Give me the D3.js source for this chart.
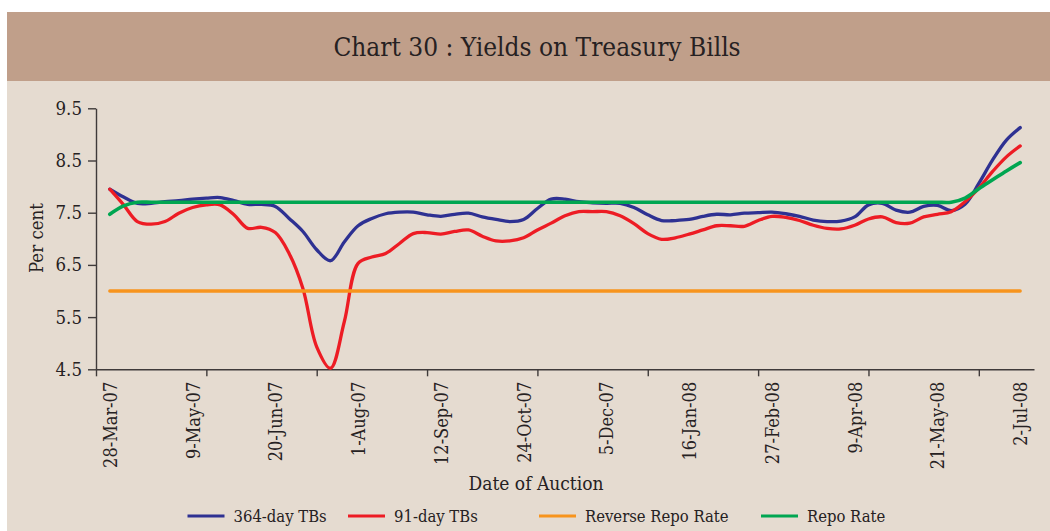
<!DOCTYPE html>
<html>
<head>
<meta charset="utf-8">
<script src="https://cdn.jsdelivr.net/npm/d3@7"></script>
<style>
  html, body { margin: 0; padding: 0; background: #ffffff; }
  svg text { font-family: "DejaVu Serif Condensed", "DejaVu Serif", serif; font-stretch: condensed; fill: #262122; }
</style>
</head>
<body>
<svg id="chart" width="1050" height="531"></svg>
<script>
// ---------- DATA ----------
const categories = [
  "28-Mar-07","4-Apr-07","11-Apr-07","18-Apr-07","25-Apr-07","2-May-07","9-May-07","16-May-07","23-May-07","30-May-07",
  "6-Jun-07","13-Jun-07","20-Jun-07","27-Jun-07","4-Jul-07","11-Jul-07","18-Jul-07","25-Jul-07","1-Aug-07","8-Aug-07",
  "15-Aug-07","22-Aug-07","29-Aug-07","5-Sep-07","12-Sep-07","19-Sep-07","26-Sep-07","3-Oct-07","10-Oct-07","17-Oct-07",
  "24-Oct-07","31-Oct-07","7-Nov-07","14-Nov-07","21-Nov-07","28-Nov-07","5-Dec-07","12-Dec-07","19-Dec-07","26-Dec-07",
  "2-Jan-08","9-Jan-08","16-Jan-08","23-Jan-08","30-Jan-08","6-Feb-08","13-Feb-08","20-Feb-08","27-Feb-08","5-Mar-08",
  "12-Mar-08","19-Mar-08","26-Mar-08","2-Apr-08","9-Apr-08","16-Apr-08","23-Apr-08","30-Apr-08","7-May-08","14-May-08",
  "21-May-08","28-May-08","4-Jun-08","11-Jun-08","18-Jun-08","25-Jun-08","2-Jul-08"
];

const tb364 = [
  7.95,7.80,7.68,7.68,7.71,7.73,7.76,7.78,7.79,7.73,
  7.66,7.66,7.62,7.39,7.14,6.79,6.58,6.94,7.25,7.39,
  7.48,7.51,7.51,7.46,7.43,7.47,7.49,7.42,7.37,7.33,
  7.37,7.58,7.76,7.76,7.71,7.69,7.68,7.68,7.60,7.46,
  7.35,7.35,7.37,7.43,7.47,7.46,7.49,7.50,7.51,7.48,
  7.43,7.36,7.33,7.34,7.42,7.65,7.68,7.55,7.51,7.62,
  7.64,7.54,7.66,8.06,8.51,8.89,9.13
];

const tb91 = [
  7.95,7.65,7.33,7.28,7.33,7.49,7.60,7.65,7.65,7.46,
  7.20,7.22,7.12,6.72,6.05,4.93,4.52,5.41,6.53,6.65,
  6.72,6.91,7.10,7.12,7.09,7.14,7.17,7.05,6.96,6.96,
  7.02,7.17,7.30,7.44,7.52,7.52,7.52,7.44,7.29,7.10,
  6.99,7.02,7.09,7.17,7.25,7.25,7.24,7.35,7.43,7.41,
  7.35,7.26,7.20,7.19,7.26,7.38,7.42,7.31,7.30,7.42,
  7.47,7.52,7.71,7.97,8.29,8.57,8.78
];

const reverseRepo = [
  6.0,6.0,6.0,6.0,6.0,6.0,6.0,6.0,6.0,6.0,
  6.0,6.0,6.0,6.0,6.0,6.0,6.0,6.0,6.0,6.0,
  6.0,6.0,6.0,6.0,6.0,6.0,6.0,6.0,6.0,6.0,
  6.0,6.0,6.0,6.0,6.0,6.0,6.0,6.0,6.0,6.0,
  6.0,6.0,6.0,6.0,6.0,6.0,6.0,6.0,6.0,6.0,
  6.0,6.0,6.0,6.0,6.0,6.0,6.0,6.0,6.0,6.0,
  6.0,6.0,6.0,6.0,6.0,6.0,6.0
];

const repo = [
  7.47,7.63,7.70,7.70,7.70,7.70,7.70,7.70,7.70,7.70,
  7.70,7.70,7.70,7.70,7.70,7.70,7.70,7.70,7.70,7.70,
  7.70,7.70,7.70,7.70,7.70,7.70,7.70,7.70,7.70,7.70,
  7.70,7.70,7.70,7.70,7.70,7.70,7.70,7.70,7.70,7.70,
  7.70,7.70,7.70,7.70,7.70,7.70,7.70,7.70,7.70,7.70,
  7.70,7.70,7.70,7.70,7.70,7.70,7.70,7.70,7.70,7.70,
  7.70,7.70,7.78,7.96,8.13,8.30,8.46
];

const seriesNames = ["364-day TBs", "91-day TBs", "Reverse Repo Rate", "Repo Rate"];
const seriesColors = ["#2e3192", "#ed1c24", "#f7941d", "#00a651"];

const xTickLabels = ["28-Mar-07","9-May-07","20-Jun-07","1-Aug-07","12-Sep-07","24-Oct-07",
                     "5-Dec-07","16-Jan-08","27-Feb-08","9-Apr-08","21-May-08","2-Jul-08"];
const yTicks = [4.5, 5.5, 6.5, 7.5, 8.5, 9.5];
const titleText = "Chart 30 : Yields on Treasury Bills";
const yTitle = "Per cent";
const xTitle = "Date of Auction";

// ---------- CHART ----------
const svg = d3.select("#chart");

// backgrounds
svg.append("rect").attr("x", 7).attr("y", 81).attr("width", 1043).attr("height", 450).attr("fill", "#e5dbd0");
svg.append("rect").attr("x", 7).attr("y", 12).attr("width", 1043).attr("height", 69).attr("fill", "#c09f8a");

svg.append("text")
  .attr("x", 537).attr("y", 56)
  .attr("text-anchor", "middle")
  .style("font-size", "26px")
  .text(titleText);

const x = d3.scaleLinear().domain([-1, 67]).range([96, 1034]);
const y = d3.scaleLinear().domain([4.5, 9.5]).range([369.3, 108.3]);

const axisColor = "#3f3a3a";

// x axis: tick marks every 8 categories, labels every 6 categories
const tickMarks = d3.range(-1, categories.length, 8);
const gx = svg.append("g").attr("transform", `translate(0,${y(4.5)})`)
  .call(d3.axisBottom(x).tickValues(tickMarks).tickFormat("").tickSizeInner(7).tickSizeOuter(0));
gx.select(".domain").attr("stroke", axisColor).attr("stroke-width", 1.4);
gx.selectAll(".tick line").attr("stroke", axisColor).attr("stroke-width", 1.4);

const labelIdx = xTickLabels.map(l => categories.indexOf(l));
const gxl = svg.append("g").attr("transform", `translate(0,${y(4.5)})`)
  .call(d3.axisBottom(x).tickValues(labelIdx).tickFormat(i => categories[i]).tickSize(0));
gxl.select(".domain").remove();
gxl.selectAll(".tick text")
  .attr("transform", "rotate(-90)")
  .attr("text-anchor", "end")
  .attr("x", -12.5)
  .attr("y", 0)
  .attr("dy", "0.36em")
  .style("font-size", "18px")
  .style("font-family", "\"DejaVu Serif Condensed\", \"DejaVu Serif\", serif")
  .style("fill", "#262122");

// y axis
const gy = svg.append("g").attr("transform", `translate(96,0)`)
  .call(d3.axisLeft(y).tickValues(yTicks).tickFormat(d3.format(".1f")).tickSizeInner(8).tickSizeOuter(0).tickPadding(6));
gy.select(".domain").attr("stroke", axisColor).attr("stroke-width", 1.4);
gy.selectAll(".tick line").attr("stroke", axisColor).attr("stroke-width", 1.4);
gy.selectAll(".tick text")
  .style("font-size", "18.5px")
  .style("font-family", "\"DejaVu Serif Condensed\", \"DejaVu Serif\", serif")
  .style("fill", "#262122");

// axis titles
svg.append("text")
  .attr("transform", "translate(43,238) rotate(-90)")
  .attr("text-anchor", "middle")
  .style("font-size", "18.5px")
  .text(yTitle);

svg.append("text")
  .attr("x", 536).attr("y", 490)
  .attr("text-anchor", "middle")
  .style("font-size", "19px")
  .text(xTitle);

// lines
const allSeries = [tb364, tb91, reverseRepo, repo];
const line = d3.line()
  .x((d, i) => x(i))
  .y(d => y(d))
  .curve(d3.curveCatmullRom.alpha(0.5));

svg.append("g").selectAll("path")
  .data(allSeries)
  .join("path")
  .attr("d", d => line(d))
  .attr("fill", "none")
  .attr("stroke", (d, i) => seriesColors[i])
  .attr("stroke-width", (d, i) => i === 3 ? 3.6 : 3.3)
  .attr("stroke-linejoin", "round")
  .attr("stroke-linecap", "round");

// legend
const legendX = [187.5, 348, 539, 761];
const lg = svg.append("g");
seriesNames.forEach((name, i) => {
  lg.append("line")
    .attr("x1", legendX[i]).attr("x2", legendX[i] + 37)
    .attr("y1", 516).attr("y2", 516)
    .attr("stroke", seriesColors[i]).attr("stroke-width", 2.8);
  lg.append("text")
    .attr("x", legendX[i] + 46).attr("y", 521.5)
    .style("font-size", "16.5px")
    .text(name);
});
</script>
</body>
</html>
